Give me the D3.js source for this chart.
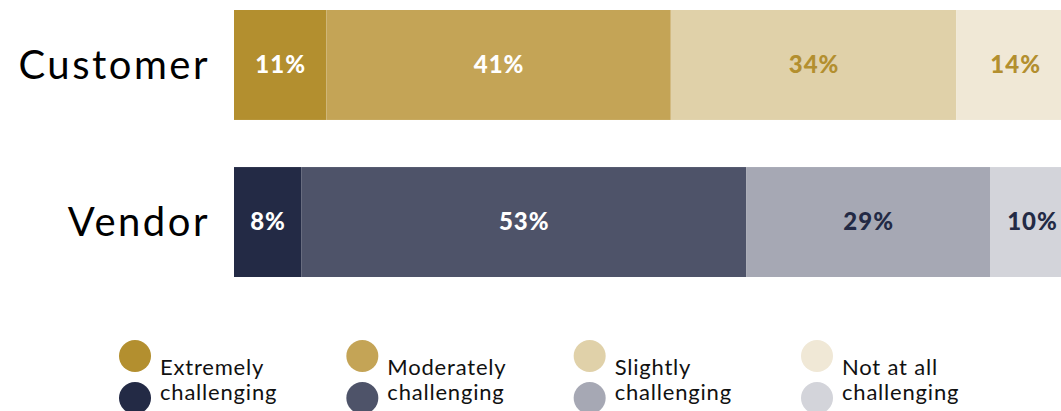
<!DOCTYPE html>
<html>
<head>
<meta charset="utf-8">
<script src="https://cdn.jsdelivr.net/npm/d3@7"></script>
<style>
  html, body { margin: 0; padding: 0; background: #fff; overflow: hidden; }
  svg { display: block; }
</style>
</head>
<body>
<svg id="chart" width="1061" height="411"></svg>
<script>
// Survey responses: how challenging, by group (percent of respondents)
const groups = ["Customer", "Vendor"];
const levels = ["Extremely", "Moderately", "Slightly", "Not at all"];
const customerValues = [11, 41, 34, 14];
const vendorValues = [8, 53, 29, 10];
const legendLines = [["Extremely", "challenging"], ["Moderately", "challenging"], ["Slightly", "challenging"], ["Not at all", "challenging"]];

const customerColors = ["#b38f2f", "#c4a456", "#e0d1a9", "#f0e8d6"];
const vendorColors = ["#232a45", "#4e5369", "#a6a8b4", "#d3d4da"];
const customerText = ["#ffffff", "#ffffff", "#b38f2f", "#b38f2f"];
const vendorText = ["#ffffff", "#ffffff", "#232a45", "#232a45"];

const rows = [
  { name: groups[0], values: customerValues, colors: customerColors, text: customerText },
  { name: groups[1], values: vendorValues, colors: vendorColors, text: vendorText }
];

const svg = d3.select("#chart");
const font = "Lato, 'Noto Sans', sans-serif";

const x = d3.scaleLinear().domain([0, 100]).range([234, 1074]);
const y = d3.scaleBand().domain(groups).range([10, 277]).paddingInner(0.3);

rows.forEach(row => {
  const stack = [];
  let acc = 0;
  row.values.forEach((v, i) => { stack.push({ v, x0: acc, x1: acc + v, i }); acc += v; });

  const g = svg.append("g");
  g.selectAll("rect").data(stack).join("rect")
    .attr("x", d => x(d.x0))
    .attr("y", y(row.name))
    .attr("width", d => x(d.x1) - x(d.x0))
    .attr("height", y.bandwidth())
    .attr("fill", d => row.colors[d.i]);

  g.selectAll("text").data(stack).join("text")
    .attr("x", d => (x(d.x0) + x(d.x1)) / 2 + 0.5)
    .attr("y", y(row.name) + y.bandwidth() / 2 + 8)
    .attr("text-anchor", "middle")
    .attr("font-family", font)
    .attr("font-weight", 900)
    .attr("font-size", 24)
    .attr("letter-spacing", 1)
    .attr("fill", d => row.text[d.i])
    .text(d => d.v + "%");
});

// Category axis on the left
const axis = d3.axisLeft(y).tickSize(0).tickPadding(24);
const ag = svg.append("g").attr("transform", `translate(${x(0)},0)`).call(axis);
ag.select(".domain").remove();
ag.selectAll("text")
  .attr("font-family", font)
  .attr("font-size", 40)
  .attr("letter-spacing", 2.5)
  .attr("fill", "#000")
  .attr("dy", "0.35em");

// Legend: gold swatch over navy swatch for each level
const lx = d3.scalePoint().domain(levels).range([135, 817]);
const lg = svg.append("g");
levels.forEach((lev, i) => {
  const cx = lx(lev);
  lg.append("circle").attr("cx", cx).attr("cy", 356).attr("r", 16).attr("fill", customerColors[i]);
  lg.append("circle").attr("cx", cx).attr("cy", 398).attr("r", 16).attr("fill", vendorColors[i]);
  const t = lg.append("text")
    .attr("font-family", font)
    .attr("font-size", 22)
    .attr("letter-spacing", 0.8)
    .attr("fill", "#111");
  t.append("tspan").attr("x", cx + 25).attr("y", 375).text(legendLines[i][0]);
  t.append("tspan").attr("x", cx + 25).attr("y", 400).text(legendLines[i][1]);
});
</script>
</body>
</html>
